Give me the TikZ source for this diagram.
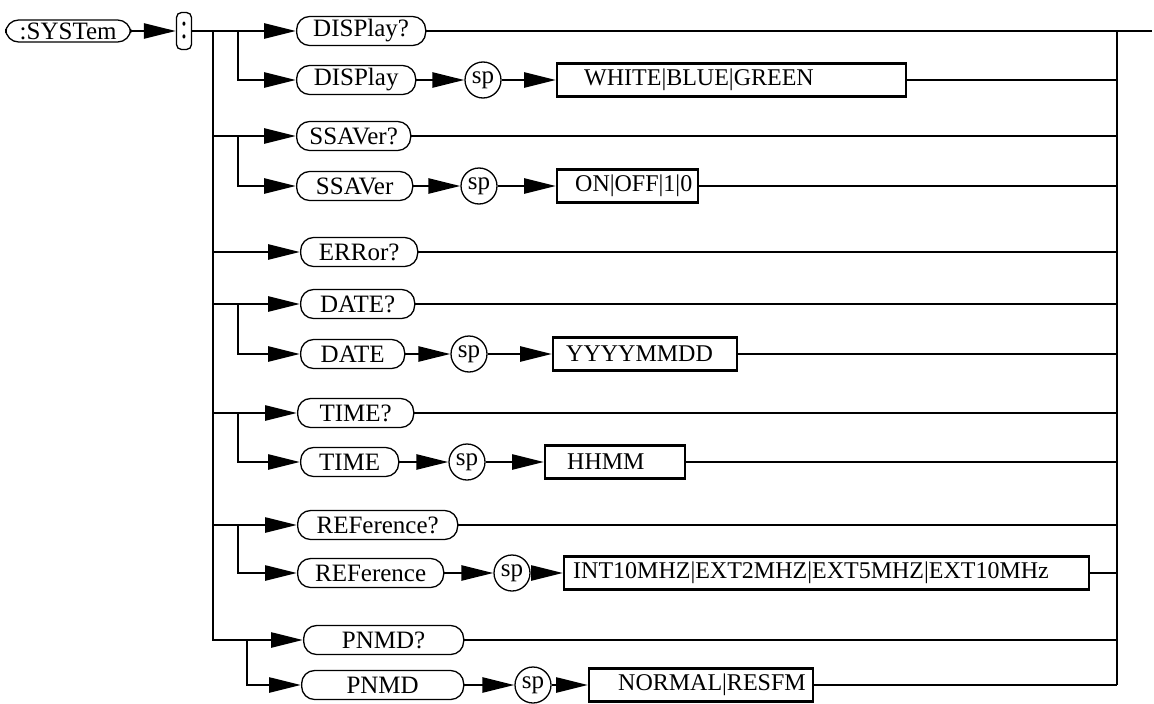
\documentclass[tikz,border=0pt]{standalone}
\usepackage{fontspec}
\usepackage{graphicx}
\setmainfont{Liberation Serif}
\usetikzlibrary{arrows.meta}

\tikzset{
    every node/.style={font=\fontsize{25}{27}\selectfont},
    kw/.style={draw, line width=1.3pt, rounded corners=13pt, minimum height=29pt, minimum width=#1, inner sep=0pt, anchor=west},
    spc/.style={draw, circle, line width=1.3pt, minimum size=36pt, inner sep=0pt},
    valbox/.style={draw, line width=2.4pt, minimum height=33pt, text width=#1, align=left, inner xsep=0pt, anchor=west, font=\fontsize{24}{26}\selectfont},
    wire/.style={line width=2.6pt},
    feed/.style={wire, -{Triangle[length=32pt,width=15pt]}},
}

\begin{document}
\begin{tikzpicture}[x=1pt, y=-1pt]
    \useasboundingbox (0,0) rectangle (1154,704);

    % Head
    \node[kw=125pt, minimum height=22pt] (sys) at (5,31) {:SYSTem};
    \node[draw, line width=1.3pt, rounded corners=5pt, minimum width=15pt, minimum height=37pt, inner sep=0pt] (colon) at (184,31) {\scalebox{1}[1.4]{:}};

    % Bus points
    \coordinate (m0) at (213,31);
    \coordinate (br) at (238,31);
    \coordinate (pbr) at (247,640);
    \coordinate (r0) at (1117,31);
    \coordinate (out) at (1152,31);

    % Queries
    \node[kw=129pt] (dispq) at (296,31) {DISPlay?};
    \node[kw=114pt] (ssavq) at (296,136) {SSAVer?};
    \node[kw=117pt] (errq) at (300,252) {ERRor?};
    \node[kw=114pt] (dateq) at (300,304) {DATE?};
    \node[kw=116pt] (timeq) at (297,413) {TIME?};
    \node[kw=160pt] (refq) at (297,525) {REFerence?};
    \node[kw=160pt] (pnmdq) at (303,640) {PNMD?};

    % Settings
    \node[kw=119pt] (disp) at (296,80) {DISPlay};
    \node[kw=116pt] (ssav) at (296,186) {SSAVer};
    \node[kw=104pt] (date) at (300,354) {DATE};
    \node[kw=98pt] (time) at (300,462) {TIME};
    \node[kw=146pt] (ref) at (297,573) {REFerence};
    \node[kw=162pt] (pnmd) at (301,685) {PNMD};

    % Separators
    \node[spc] (spdisp) at (483,80) {sp};
    \node[spc] (spssav) at (479,186) {sp};
    \node[spc] (spdate) at (469,354) {sp};
    \node[spc] (sptime) at (467,462) {sp};
    \node[spc] (spref) at (512,573) {sp};
    \node[spc] (sppnmd) at (533,685) {sp};

    % Parameters
    \node[valbox=349pt] (valdisp) at (556,80) {\hspace*{27pt}WHITE|BLUE|GREEN};
    \node[valbox=141pt] (valssav) at (556,186) {\hspace*{18pt}ON|OFF|1|0};
    \node[valbox=184pt] (valdate) at (552,354) {\hspace*{13pt}YYYYMMDD};
    \node[valbox=140pt] (valtime) at (544,462) {\hspace*{22pt}HHMM};
    \node[valbox=525pt] (valref) at (563,573) {\hspace*{9pt}INT10MHZ|EXT2MHZ|EXT5MHZ|EXT10MHz};
    \node[valbox=224pt] (valpnmd) at (588,685) {\hspace*{29pt}NORMAL|RESFM};

    % Trunk and buses
    \draw[feed] (sys) -- (colon);
    \draw[feed] (colon) -- (dispq);
    \draw[wire] (dispq) -- (out);
    \draw[feed] (m0) -- (m0 |- pnmdq) -- (pnmdq);
    \draw[wire] (r0) -- (r0 |- pnmd);

    % Branches
    \foreach \q in {ssavq,errq,dateq,timeq,refq} \draw[feed] (m0 |- \q) -- (\q);
    \foreach \q in {ssavq,errq,dateq,timeq,refq,pnmdq} \draw[wire] (\q) -- (r0 |- \q);
    \foreach \q/\s in {dispq/disp,ssavq/ssav,dateq/date,timeq/time,refq/ref} \draw[feed] (br |- \q) -- (br |- \s) -- (\s);
    \draw[feed] (pbr) -- (pbr |- pnmd) -- (pnmd);

    % Setting chains
    \foreach \s in {disp,ssav,date,time,ref,pnmd} {
        \draw[feed] (\s) -- (sp\s);
        \draw[feed] (sp\s) -- (val\s);
        \draw[wire] (val\s) -- (r0 |- val\s);
    }
\end{tikzpicture}
\end{document}
